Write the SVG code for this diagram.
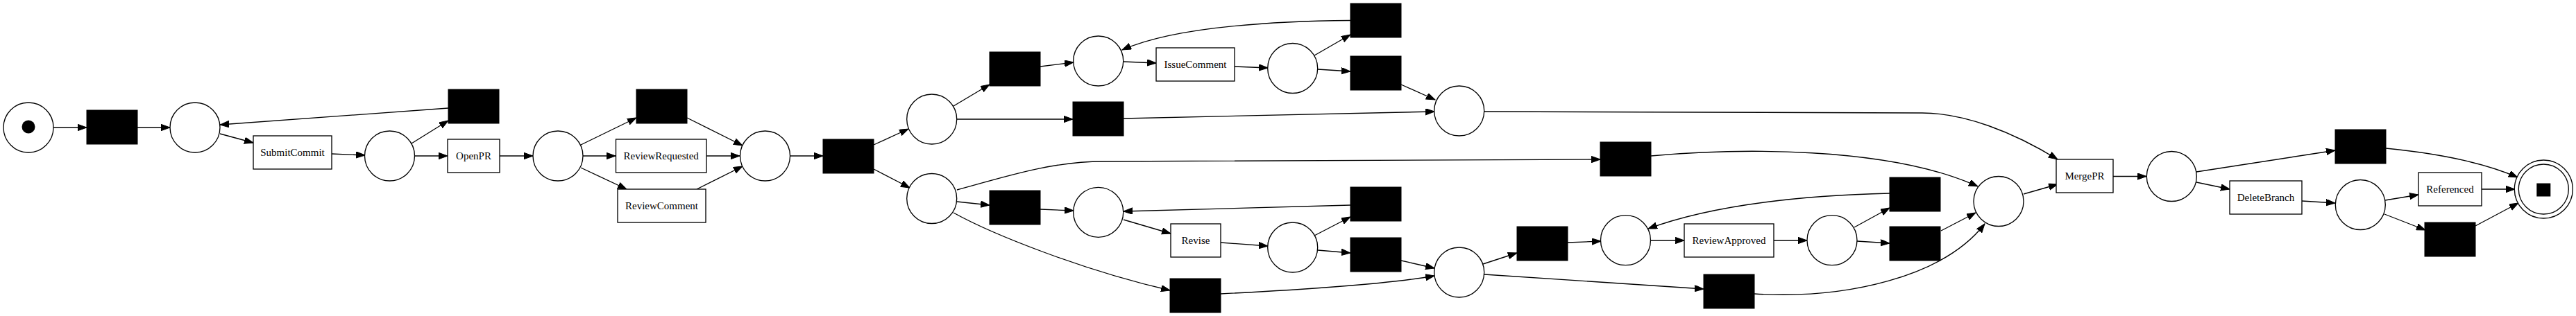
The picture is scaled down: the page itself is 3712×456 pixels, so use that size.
<svg xmlns="http://www.w3.org/2000/svg" width="3712" height="456" viewBox="0 0 3712 456">
<style>
.p{fill:#fff;stroke:#000;stroke-width:1.33}
.t{fill:#000;stroke:#000;stroke-width:1}
.b{fill:#fff;stroke:#000;stroke-width:1.33}
.l{font-family:"Liberation Serif","Times New Roman",serif;font-size:15px;text-anchor:middle;dominant-baseline:central;fill:#000}
#edges path{fill:none;stroke:#000;stroke-width:1.33;marker-end:url(#ah)}
</style>
<defs>
<marker id="ah" markerUnits="userSpaceOnUse" markerWidth="14" markerHeight="10" refX="13" refY="4.7" orient="auto">
<path d="M0,0 L13,4.7 L0,9.4 z" fill="#000" stroke="#000" stroke-width="1"/>
</marker>
</defs>
<rect width="3712" height="456" fill="#fff"/>
<g id="edges">
<path d="M77,184 L125,184"/>
<path d="M198,184 L245,184"/>
<path d="M317,193 L365,206"/>
<path d="M478,222 L526,224"/>
<path d="M593,207 L646,174"/>
<path d="M646,156 L317,180"/>
<path d="M597,225 L645,225"/>
<path d="M720,225 L768,225"/>
<path d="M837,209 L917,170"/>
<path d="M840,225 L887,225"/>
<path d="M837,242 L903,273"/>
<path d="M990,170 L1070,210"/>
<path d="M1018,225 L1066,225"/>
<path d="M1004,273 L1070,240"/>
<path d="M1138.5,225 L1186,225"/>
<path d="M1259,209 L1309,186"/>
<path d="M1259,244 L1311,271"/>
<path d="M1374,153 L1426,122"/>
<path d="M1379,172 L1546,172"/>
<path d="M1499,96 L1547,90"/>
<path d="M1619,89 L1666,91"/>
<path d="M1779,96 L1827,98"/>
<path d="M1894,80 L1946,50"/>
<path d="M1899,100 L1946,103"/>
<path d="M1946,29.5 C1800,31 1680,44 1617,72"/>
<path d="M2019,122 L2068,144"/>
<path d="M1619,171 L2067,161"/>
<path d="M2139,161 L2770,163 C2830,163 2900,190 2965,230"/>
<path d="M1379,274 C1440,258 1510,233 1590,233 L2306,230"/>
<path d="M2379,225 C2500,214 2720,210 2850,269"/>
<path d="M1379,291 L1426,296"/>
<path d="M1499,302 L1547,304"/>
<path d="M1619,317 L1687,337"/>
<path d="M1759,350 L1827,355"/>
<path d="M1894,340 L1946,313"/>
<path d="M1899,361 L1946,365"/>
<path d="M1946,296 L1619,305"/>
<path d="M2019,376 L2067,387"/>
<path d="M1374,307 C1430,338 1560,390 1686,419"/>
<path d="M1759,424 C1880,418 2000,410 2067,398"/>
<path d="M2137,381 L2186,365"/>
<path d="M2259,350 L2307,348"/>
<path d="M2139,396 L2455,417"/>
<path d="M2378,347 L2427,347"/>
<path d="M2556,347 L2604,347"/>
<path d="M2672,328 L2723,300"/>
<path d="M2676,348 L2723,351"/>
<path d="M2723,279 C2600,282 2470,295 2375,330"/>
<path d="M2797,333 L2847,307"/>
<path d="M2528,424 C2660,432 2800,400 2860,323"/>
<path d="M2916,280 L2965,266"/>
<path d="M3045,254.5 L3093,254.5"/>
<path d="M3165,248 L3365,217"/>
<path d="M3165,263 L3213,273"/>
<path d="M3317,290 L3365,293"/>
<path d="M3438,214 C3520,222 3580,235 3628,256"/>
<path d="M3437,289 L3485,281"/>
<path d="M3576,273 L3624,273"/>
<path d="M3436,309 L3495,332"/>
<path d="M3567,326 L3629,293"/>
</g>
<g id="p0"><circle class="p" cx="41" cy="184" r="36"/><circle cx="41" cy="183" r="9.5" fill="#000"/></g>
<g id="p1"><circle class="p" cx="281" cy="184" r="36"/></g>
<g id="p2"><circle class="p" cx="561.5" cy="225" r="36"/></g>
<g id="p3"><circle class="p" cx="804" cy="225" r="36"/></g>
<g id="p4"><circle class="p" cx="1102.5" cy="225" r="36"/></g>
<g id="p5"><circle class="p" cx="1342.7" cy="172" r="36"/></g>
<g id="p6"><circle class="p" cx="1342.7" cy="286.5" r="36"/></g>
<g id="p7"><circle class="p" cx="1582.7" cy="88" r="36"/></g>
<g id="p8"><circle class="p" cx="1582.7" cy="306.3" r="36"/></g>
<g id="p9"><circle class="p" cx="1862.7" cy="98.5" r="36"/></g>
<g id="p10"><circle class="p" cx="2102.7" cy="160" r="36"/></g>
<g id="p11"><circle class="p" cx="1862.7" cy="357" r="36"/></g>
<g id="p12"><circle class="p" cx="2102.7" cy="393" r="36"/></g>
<g id="p13"><circle class="p" cx="2342.5" cy="346.7" r="36"/></g>
<g id="p14"><circle class="p" cx="2880" cy="290.5" r="36"/></g>
<g id="p15"><circle class="p" cx="2640" cy="346.7" r="36"/></g>
<g id="p16"><circle class="p" cx="3129.3" cy="254.5" r="36"/></g>
<g id="p17"><circle class="p" cx="3401.3" cy="295.5" r="36"/></g>
<g id="pend"><circle class="p" cx="3665.3" cy="273" r="42"/><circle class="p" cx="3665.3" cy="273" r="36"/><rect x="3655.3" y="264.5" width="20" height="19" fill="#000"/></g>
<g id="t0"><rect class="t" x="125" y="159" width="73" height="49"/></g>
<g id="t1"><rect class="t" x="646" y="129" width="73" height="49"/></g>
<g id="t2"><rect class="t" x="917" y="129" width="73" height="49"/></g>
<g id="t3"><rect class="t" x="1186" y="201" width="73" height="49"/></g>
<g id="t4"><rect class="t" x="1426" y="75" width="73" height="49"/></g>
<g id="t5"><rect class="t" x="1546" y="147" width="73" height="49"/></g>
<g id="t6"><rect class="t" x="1426" y="275" width="73" height="49"/></g>
<g id="t7"><rect class="t" x="1946" y="5" width="73" height="49"/></g>
<g id="t8"><rect class="t" x="1946" y="81" width="73" height="49"/></g>
<g id="t9"><rect class="t" x="1946" y="270" width="73" height="49"/></g>
<g id="t10"><rect class="t" x="1946" y="343" width="73" height="49"/></g>
<g id="t11"><rect class="t" x="1686" y="402" width="73" height="49"/></g>
<g id="t12"><rect class="t" x="2306" y="205" width="73" height="49"/></g>
<g id="t13"><rect class="t" x="2186" y="327" width="73" height="49"/></g>
<g id="t14"><rect class="t" x="2455" y="396" width="73" height="49"/></g>
<g id="t15"><rect class="t" x="2723" y="256" width="73" height="49"/></g>
<g id="t16"><rect class="t" x="2723" y="327" width="73" height="49"/></g>
<g id="t17"><rect class="t" x="3365" y="187" width="73" height="49"/></g>
<g id="t18"><rect class="t" x="3494" y="321" width="73" height="49"/></g>
<g id="submitcommit"><rect class="b" x="365" y="196" width="113" height="48"/><text class="l" x="421.5" y="220">SubmitCommit</text></g>
<g id="openpr"><rect class="b" x="645" y="201" width="75" height="48"/><text class="l" x="682.5" y="225">OpenPR</text></g>
<g id="reviewrequested"><rect class="b" x="887.5" y="201" width="130.5" height="48"/><text class="l" x="952.7" y="225">ReviewRequested</text></g>
<g id="reviewcomment"><rect class="b" x="890" y="273" width="127" height="48"/><text class="l" x="953.5" y="297">ReviewComment</text></g>
<g id="issuecomment"><rect class="b" x="1666" y="69" width="113" height="48"/><text class="l" x="1722.5" y="93">IssueComment</text></g>
<g id="revise"><rect class="b" x="1687" y="323" width="72" height="48"/><text class="l" x="1723" y="347">Revise</text></g>
<g id="reviewapproved"><rect class="b" x="2427" y="323" width="129" height="48"/><text class="l" x="2491.5" y="347">ReviewApproved</text></g>
<g id="mergepr"><rect class="b" x="2963" y="230" width="82" height="48"/><text class="l" x="3004" y="254">MergePR</text></g>
<g id="deletebranch"><rect class="b" x="3213" y="261" width="104" height="48"/><text class="l" x="3265" y="285">DeleteBranch</text></g>
<g id="referenced"><rect class="b" x="3485" y="249" width="91" height="48"/><text class="l" x="3530.5" y="273">Referenced</text></g>
</svg>
